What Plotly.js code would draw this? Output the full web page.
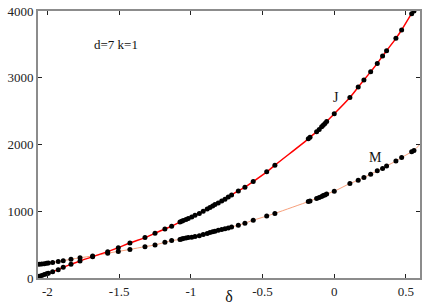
<!DOCTYPE html>
<html>
<head>
<meta charset="utf-8">
<script src="https://cdn.plot.ly/plotly-3.0.1.min.js"></script>
<style>html,body{margin:0;padding:0;background:#fff;}#chart{width:436px;height:305px;}</style>
</head>
<body>
<div id="chart"></div>
<script>
// shared delta values of the computed points
var delta = [-2.057,-2.040,-2.022,-2.006,-1.994,-1.964,-1.925,-1.890,-1.836,-1.773,-1.685,-1.580,-1.506,-1.425,-1.320,-1.250,-1.181,-1.134,-1.076,-1.064,-1.053,-1.034,-1.018,-0.994,-0.971,-0.941,-0.914,-0.886,-0.867,-0.848,-0.832,-0.809,-0.785,-0.762,-0.739,-0.716,-0.669,-0.623,-0.565,-0.471,-0.414,-0.181,-0.169,-0.123,-0.105,-0.088,-0.077,-0.065,-0.053,0.000,0.109,0.167,0.207,0.254,0.300,0.337,0.365,0.430,0.470,0.540,0.556];
var J = [25,38,52,63,70,92,125,160,205,255,320,395,455,525,605,670,735,775,838,850,862,878,893,915,940,968,1000,1035,1058,1078,1100,1125,1152,1180,1215,1245,1305,1360,1445,1590,1690,2085,2110,2190,2225,2265,2290,2315,2345,2460,2705,2860,2965,3090,3215,3325,3405,3590,3715,3960,4000];
var M = [205,210,215,220,223,232,248,260,280,303,330,372,398,428,470,495,535,560,578,584,590,598,605,612,622,633,650,668,680,692,702,715,727,738,750,765,790,822,865,928,968,1145,1155,1192,1207,1222,1235,1245,1258,1300,1415,1465,1505,1555,1605,1642,1678,1752,1805,1890,1910];
// curve ends (lines continue to the frame)
var jLineStart = {d:-2.066, v:15};
var jLineEnd = {d:0.575, v:4090};
var mLineStart = {d:-2.066, v:203};
var mLineEnd = {d:0.598, v:2005};
var xTicks = [-2,-1.5,-1,-0.5,0,0.5];
var xTickText = ['-2','-1.5','-1','-0.5','0','0.5'];
var yTicks = [0,1000,2000,3000,4000];

var serif = 'Liberation Serif, Times New Roman, serif';

var traces = [
  {x:[mLineStart.d].concat(delta,[mLineEnd.d]), y:[mLineStart.v].concat(M,[mLineEnd.v]), mode:'lines',
   line:{color:'#f7a07c', width:1, shape:'spline'}, hoverinfo:'skip'},
  {x:[jLineStart.d].concat(delta,[jLineEnd.d]), y:[jLineStart.v].concat(J,[jLineEnd.v]), mode:'lines',
   line:{color:'#ff0000', width:1.5, shape:'spline'}, hoverinfo:'skip'},
  {x:delta, y:M, mode:'markers', marker:{color:'#000', size:5}},
  {x:delta, y:J, mode:'markers', marker:{color:'#000', size:5}}
];

var axisCommon = {
  showgrid:false, zeroline:false, showline:true, linecolor:'#8c8c8c', linewidth:2,
  mirror:'ticks', ticks:'inside', ticklen:4, tickcolor:'#222', tickwidth:1,
  tickfont:{family:serif, size:13, color:'#222'}
};

var layout = {
  width:436, height:305,
  margin:{l:38, r:16, t:11, b:27, pad:0},
  paper_bgcolor:'#fff', plot_bgcolor:'#fff',
  showlegend:false,
  font:{family:serif, color:'#111'},
  xaxis:Object.assign({}, axisCommon, {
    range:[-2.066,0.598], tickvals:xTicks, ticktext:xTickText,
    title:{text:'δ', font:{family:serif, size:16, color:'#111'}, standoff:2}
  }),
  yaxis:Object.assign({}, axisCommon, {
    range:[0,4000], tickvals:yTicks, ticktext:yTicks.map(String)
  }),
  annotations:[
    {x:-1.522, y:3505, text:'d=7 k=1', showarrow:false, font:{family:serif, size:13, color:'#111'}},
    {x:0.01, y:2710, text:'J', showarrow:false, font:{family:serif, size:14, color:'#111'}},
    {x:0.29, y:1810, text:'M', showarrow:false, font:{family:serif, size:14, color:'#111'}}
  ]
};

Plotly.newPlot('chart', traces, layout, {staticPlot:true, displayModeBar:false});
</script>
</body>
</html>
